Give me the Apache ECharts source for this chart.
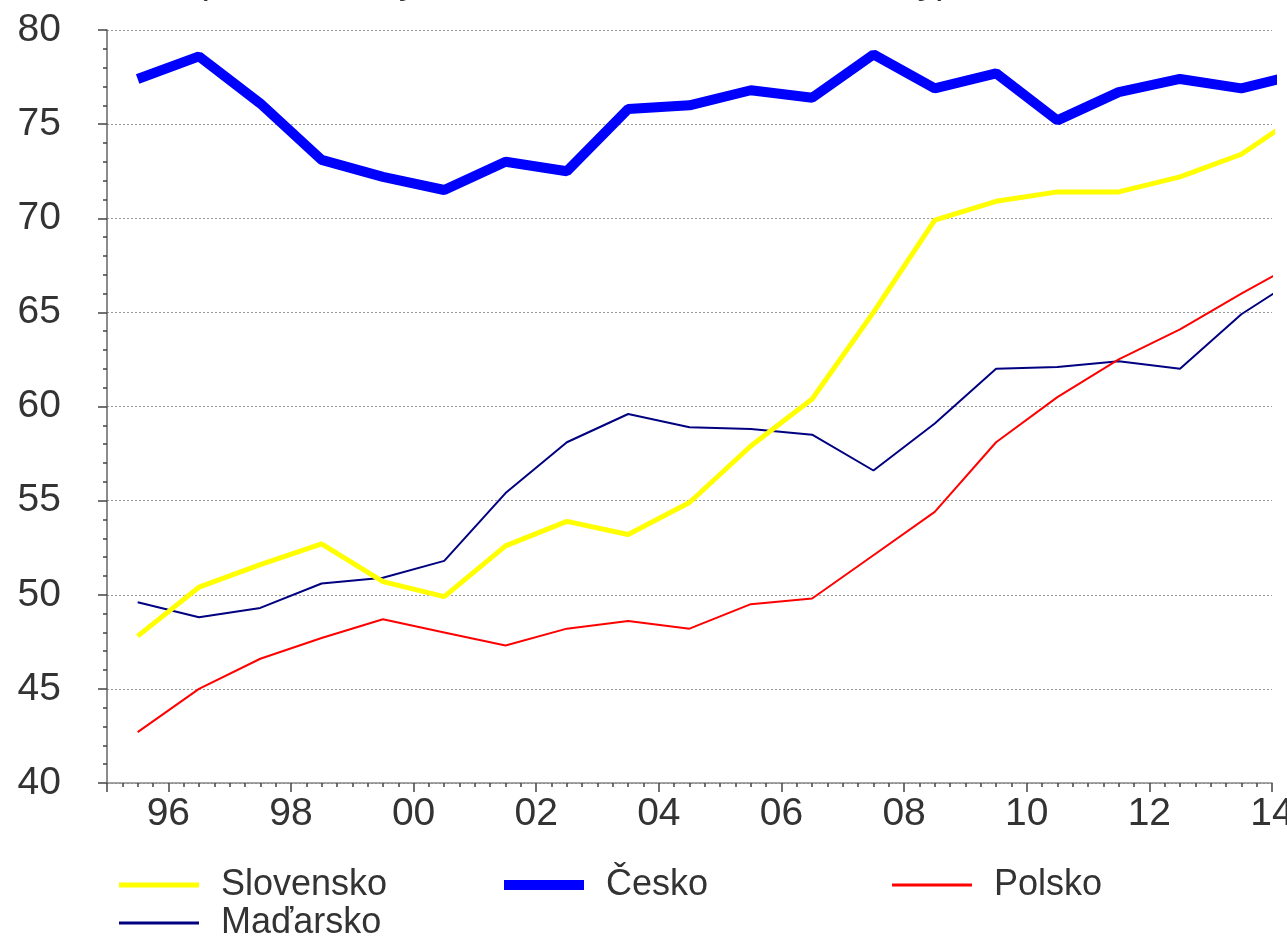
<!DOCTYPE html>
<html>
<head>
<meta charset="utf-8">
<script src="https://cdn.jsdelivr.net/npm/echarts@6/dist/echarts.min.js"></script>
<style>
  html, body { margin: 0; padding: 0; background: #fff; }
  #main { width: 1287px; height: 937px; }
</style>
</head>
<body>
<div id="main"></div>
<script>
// roky (hodnoty kreslené v polovici roka)
var years = [1995, 1996, 1997, 1998, 1999, 2000, 2001, 2002, 2003, 2004,
             2005, 2006, 2007, 2008, 2009, 2010, 2011, 2012, 2013, 2014];

var slovensko = [47.8, 50.4, 51.6, 52.7, 50.7, 49.9, 52.6, 53.9, 53.2, 54.9,
                 57.9, 60.4, 65.0, 69.9, 70.9, 71.4, 71.4, 72.2, 73.4, 75.6];
var cesko     = [77.4, 78.6, 76.1, 73.1, 72.2, 71.5, 73.0, 72.5, 75.8, 76.0,
                 76.8, 76.4, 78.7, 76.9, 77.7, 75.2, 76.7, 77.4, 76.9, 77.7];
var polsko    = [42.7, 45.0, 46.6, 47.7, 48.7, 48.0, 47.3, 48.2, 48.6, 48.2,
                 49.5, 49.8, 52.1, 54.4, 58.1, 60.5, 62.5, 64.1, 66.0, 67.8];
var madarsko  = [49.6, 48.8, 49.3, 50.6, 50.9, 51.8, 55.4, 58.1, 59.6, 58.9,
                 58.8, 58.5, 56.6, 59.1, 62.0, 62.1, 62.4, 62.0, 64.9, 67.0];

var yTicks = [40, 45, 50, 55, 60, 65, 70, 75, 80];

var myChart = echarts.init(document.getElementById('main'));
var font = 'Liberation Sans, Arial, sans-serif';

function pts(arr) {
    return arr.map(function (v, i) { return [years[i] + 0.5, v]; });
}

function legendAt(name, left, top, thick) {
    return {
        data: [name],
        left: left,
        top: top,
        icon: 'rect',
        itemWidth: 80,
        itemHeight: thick,
        textStyle: { fontFamily: font, fontSize: 36, color: '#333', padding: [0, 0, 0, 17] }
    };
}

var option = {
    animation: false,
    title: {
        text: '(HDP na obyvateľa v PKS, % EÚ15, reálny)',
        left: 190,
        top: -42,
        textStyle: { fontFamily: font, fontSize: 39, fontWeight: 'normal', color: '#333' }
    },
    grid: { left: 107, right: 15, top: 30, bottom: 154, outerBoundsMode: 'none' },
    legend: [
        legendAt('Slovensko', 114, 862, 5),
        legendAt('Česko', 499, 862, 10),
        legendAt('Polsko', 887, 862, 3),
        legendAt('Maďarsko', 114, 900, 3)
    ],
    xAxis: [
        {
            type: 'value', min: years[0], max: years[years.length - 1],
            show: false, splitLine: { show: false }
        },
        {
            // os popisov: roky počítané od 2014 dozadu
            type: 'value', inverse: true, position: 'bottom',
            min: 0, max: 19, interval: 2,
            axisLine: { show: true, onZero: false, lineStyle: { color: '#888', width: 1.5 } },
            axisTick: { show: true, length: 9, lineStyle: { color: '#444', width: 1.5 } },
            minorTick: { show: true, splitNumber: 8, length: 4, lineStyle: { color: '#444', width: 1.5 } },
            splitLine: { show: false },
            axisLabel: {
                margin: 12,
                fontFamily: font, fontSize: 39, color: '#333',
                formatter: function (v) {
                    if (v === 19) return '';
                    var y = (2014 - v) % 100;
                    return (y < 10 ? '0' : '') + y;
                }
            }
        }
    ],
    yAxis: {
        type: 'value', min: yTicks[0], max: yTicks[yTicks.length - 1], interval: 5,
        axisLine: { show: true, onZero: false, lineStyle: { color: '#666', width: 1.5 } },
        axisTick: { show: true, length: 9, lineStyle: { color: '#444', width: 1.5 } },
        minorTick: { show: true, splitNumber: 5, length: 4, lineStyle: { color: '#444', width: 1.5 } },
        splitLine: { show: true, lineStyle: { color: '#999', type: [2, 2], width: 1 } },
        axisLabel: { margin: 46, fontFamily: font, fontSize: 39, color: '#333' }
    },
    series: [
        {
            name: 'Slovensko', type: 'line', xAxisIndex: 0, symbol: 'none',
            lineStyle: { color: '#ffff00', width: 5 }, itemStyle: { color: '#ffff00' },
            data: pts(slovensko), z: 3
        },
        {
            name: 'Česko', type: 'line', xAxisIndex: 0, symbol: 'none',
            lineStyle: { color: '#0000ff', width: 10 }, itemStyle: { color: '#0000ff' },
            data: pts(cesko), z: 4
        },
        {
            name: 'Polsko', type: 'line', xAxisIndex: 0, symbol: 'none',
            lineStyle: { color: '#ff0000', width: 2 }, itemStyle: { color: '#ff0000' },
            data: pts(polsko), z: 2
        },
        {
            name: 'Maďarsko', type: 'line', xAxisIndex: 0, symbol: 'none',
            lineStyle: { color: '#000080', width: 2 }, itemStyle: { color: '#000080' },
            data: pts(madarsko), z: 1
        }
    ]
};
myChart.setOption(option);
</script>
</body>
</html>
